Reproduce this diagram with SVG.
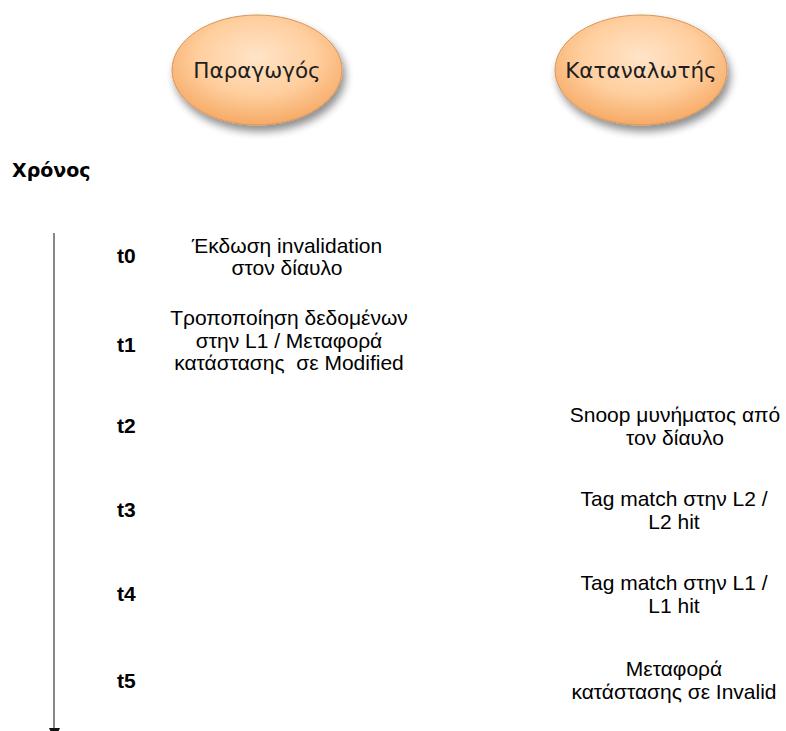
<svg xmlns="http://www.w3.org/2000/svg" width="786" height="731" viewBox="0 0 786 731">
  <defs>
    <radialGradient id="peach" cx="50%" cy="38%" r="62%">
      <stop offset="0" stop-color="#ffe4c8"/>
      <stop offset="0.55" stop-color="#ffcf9f"/>
      <stop offset="1" stop-color="#f6aa66"/>
    </radialGradient>
    <filter id="shadow" x="-20%" y="-20%" width="150%" height="160%">
      <feGaussianBlur in="SourceAlpha" stdDeviation="4"/>
      <feOffset dx="3" dy="6" result="b"/>
      <feComponentTransfer><feFuncA type="linear" slope="0.45"/></feComponentTransfer>
      <feMerge><feMergeNode/><feMergeNode in="SourceGraphic"/></feMerge>
    </filter>
  </defs>
  <style>
    .actor { fill: url(#peach); stroke: #d9955a; stroke-width: 1; filter: url(#shadow); }
    .actor-label { font-family: "DejaVu Sans", "Noto Sans", sans-serif; font-size: 21.5px; fill: #1e1e1e; text-anchor: middle; }
    .axis-title { font-family: "DejaVu Sans", sans-serif; font-weight: bold; font-size: 19px; fill: #000; }
    .tick { font-family: "Liberation Sans", Arial, sans-serif; font-weight: bold; font-size: 21px; fill: #000; }
    .step { font-family: "Liberation Sans", Arial, sans-serif; font-size: 21px; fill: #000; text-anchor: middle; white-space: pre; }
    .axis { stroke: #888; stroke-width: 2; fill: none; }
  </style>

  <!-- participants -->
  <g id="producer">
    <ellipse class="actor" cx="257" cy="70" rx="85" ry="55"/>
    <text class="actor-label" x="257" y="78">Παραγωγός</text>
  </g>
  <g id="consumer">
    <ellipse class="actor" cx="641" cy="70" rx="86" ry="55"/>
    <text class="actor-label" x="641" y="78">Καταναλωτής</text>
  </g>

  <!-- time axis -->
  <g id="connectors">
    <line class="axis" x1="54" y1="233" x2="54" y2="728"/>
    <polygon points="49,728 60,728 54.5,740" fill="#111"/>
  </g>
  <g id="time-title">
    <text class="axis-title" x="12" y="177">Χρόνος</text>
  </g>

  <!-- time ticks -->
  <g id="ticks">
    <text class="tick" x="117" y="263">t0</text>
    <text class="tick" x="117" y="352">t1</text>
    <text class="tick" x="117" y="433">t2</text>
    <text class="tick" x="117" y="517">t3</text>
    <text class="tick" x="117" y="601">t4</text>
    <text class="tick" x="117" y="688">t5</text>
  </g>

  <!-- producer steps -->
  <g id="step-t0">
    <text class="step" x="287" y="253">Έκδωση invalidation</text>
    <text class="step" x="287" y="275">στον δίαυλο</text>
  </g>
  <g id="step-t1">
    <text class="step" x="289" y="325">Τροποποίηση δεδομένων</text>
    <text class="step" x="289" y="347.5">στην L1 / Μεταφορά</text>
    <text class="step" x="289" y="370">κατάστασης  σε Modified</text>
  </g>

  <!-- consumer steps -->
  <g id="step-t2">
    <text class="step" x="675" y="422">Snoop μυνήματος από</text>
    <text class="step" x="675" y="444.5">τον δίαυλο</text>
  </g>
  <g id="step-t3">
    <text class="step" x="674" y="506">Tag match στην L2 /</text>
    <text class="step" x="674" y="528.5">L2 hit</text>
  </g>
  <g id="step-t4">
    <text class="step" x="674" y="590">Tag match στην L1 /</text>
    <text class="step" x="674" y="612.5">L1 hit</text>
  </g>
  <g id="step-t5">
    <text class="step" x="674" y="676">Μεταφορά</text>
    <text class="step" x="674" y="698.5">κατάστασης σε Invalid</text>
  </g>
</svg>
